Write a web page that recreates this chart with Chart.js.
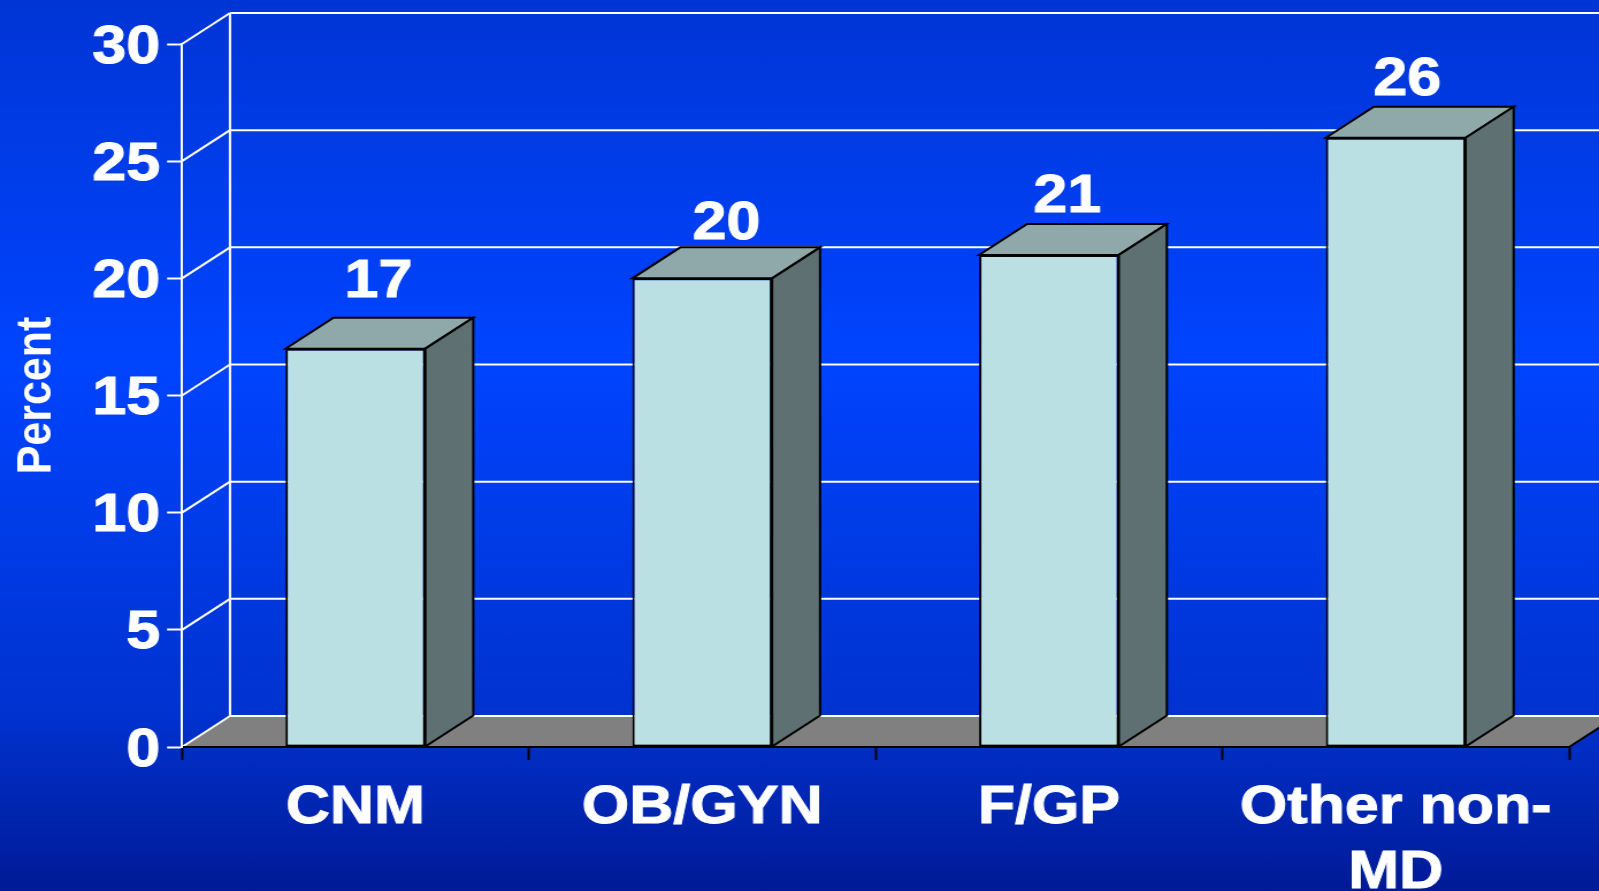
<!DOCTYPE html>
<html>
<head>
<meta charset="utf-8">
<title>Percent by provider type</title>
<script src="https://cdn.jsdelivr.net/npm/chart.js@4"></script>
<style>
  html, body { margin: 0; padding: 0; width: 1599px; height: 891px; overflow: hidden; }
  body { background: linear-gradient(to bottom, #0035d5 0%, #0044ff 40%, #0032cf 80%, #001a96 100%); }
  /* the original picture is stretched sideways, so the text is too */
  #chart { display: block; transform-origin: 0 0; transform: scaleX(1.1504); }
</style>
</head>
<body>
<canvas id="chart" width="1390" height="891"></canvas>
<script>
const categories = ['CNM', 'OB/GYN', 'F/GP', ['Other non-', 'MD']];
const percents = [17, 20, 21, 26];
const valueLabels = ['17', '20', '21', '26'];
const yTicks = [0, 5, 10, 15, 20, 25, 30];

// 3d look
const stretch = 1.1504;
const depthX = 48 / stretch;
const depthY = 31;
const labelNudgeX = [20, 21, 16, 10];
const labelNudgeY = [66, 54, 58, 57];
const font = '"Liberation Sans", Arial, sans-serif';

function poly(ctx, pts, fill, stroke, width) {
  ctx.beginPath();
  pts.forEach((p, i) => i ? ctx.lineTo(p[0], p[1]) : ctx.moveTo(p[0], p[1]));
  ctx.closePath();
  if (fill) { ctx.fillStyle = fill; ctx.fill(); }
  if (stroke) { ctx.strokeStyle = stroke; ctx.lineWidth = width; ctx.lineJoin = 'miter'; ctx.stroke(); }
}

function line(ctx, x1, y1, x2, y2, color, width) {
  ctx.beginPath();
  ctx.moveTo(x1, y1);
  ctx.lineTo(x2, y2);
  ctx.strokeStyle = color;
  ctx.lineWidth = width;
  ctx.stroke();
}

const wallsAndFloor = {
  id: 'wallsAndFloor',
  beforeDraw(chart) {
    const ctx = chart.ctx;
    const { left, right } = chart.chartArea;
    const y = chart.scales.y;
    const y0 = y.getPixelForValue(0);
    ctx.save();
    // floor
    poly(ctx, [[left, y0], [right, y0], [right + depthX, y0 - depthY], [left + depthX, y0 - depthY]], '#808080');
    line(ctx, right, y0, right + depthX, y0 - depthY, '#000000', 2);
    // back wall grid and the slanted part of each line
    yTicks.forEach(v => {
      const py = y.getPixelForValue(v);
      line(ctx, left, py, left + depthX, py - depthY, '#ffffff', 2);
      line(ctx, left + depthX, py - depthY, right + depthX, py - depthY, '#ffffff', 2);
    });
    line(ctx, left + depthX, y.getPixelForValue(30) - depthY, left + depthX, y0 - depthY, '#ffffff', 2);
    ctx.restore();
  }
};

const barSides = {
  id: 'barSides',
  afterDatasetsDraw(chart) {
    const ctx = chart.ctx;
    ctx.save();
    chart.getDatasetMeta(0).data.forEach((bar, i) => {
      const l = bar.x - bar.width / 2;
      const r = bar.x + bar.width / 2;
      const t = bar.y;
      const b = bar.base;
      poly(ctx, [[l, t], [r, t], [r + depthX, t - depthY], [l + depthX, t - depthY]], '#8fa8aa', '#000000', 2);
      poly(ctx, [[r, t], [r + depthX, t - depthY], [r + depthX, b - depthY], [r, b]], '#5e7072', '#000000', 2);
      ctx.fillStyle = '#ffffff';
      ctx.strokeStyle = '#ffffff';
      ctx.lineWidth = 1;
      ctx.font = 'bold 53px ' + font;
      ctx.textAlign = 'center';
      ctx.textBaseline = 'middle';
      ctx.strokeText(valueLabels[i], bar.x + labelNudgeX[i], t - labelNudgeY[i]);
      ctx.fillText(valueLabels[i], bar.x + labelNudgeX[i], t - labelNudgeY[i]);
    });
    ctx.restore();
  }
};

new Chart(document.getElementById('chart'), {
  type: 'bar',
  data: {
    labels: categories,
    datasets: [{
      data: percents,
      backgroundColor: '#bbe0e3',
      borderColor: '#000000',
      borderWidth: 2,
      borderSkipped: false,
      barPercentage: 1,
      categoryPercentage: 0.403
    }]
  },
  options: {
    responsive: false,
    animation: false,
    layout: { padding: { top: 44, right: 26 } },
    plugins: { legend: { display: false }, tooltip: { enabled: false } },
    scales: {
      x: {
        afterFit(scale) { scale.height = 144; },
        border: { color: '#000000', width: 2 },
        grid: { drawOnChartArea: false, tickColor: '#000000', tickWidth: 2, tickLength: 13 },
        ticks: {
          color: '#ffffff',
          textStrokeColor: '#ffffff',
          textStrokeWidth: 1,
          autoSkip: false,
          maxRotation: 0,
          padding: 16,
          font: { family: font, size: 53, weight: 'bold', lineHeight: 1.23 }
        }
      },
      y: {
        min: 0,
        max: 30,
        afterFit(scale) { scale.width = 182 / stretch; },
        afterBuildTicks(scale) { scale.ticks = yTicks.map(value => ({ value })); },
        border: { color: '#ffffff', width: 2 },
        grid: { drawOnChartArea: false, tickColor: '#ffffff', tickWidth: 2, tickLength: 13 },
        ticks: {
          color: '#ffffff',
          textStrokeColor: '#ffffff',
          textStrokeWidth: 1,
          padding: 6,
          labelOffset: 4,
          font: { family: font, size: 53, weight: 'bold' }
        },
        title: {
          display: true,
          text: 'Percent',
          color: '#ffffff',
          padding: { top: 6, bottom: 0 },
          font: { family: font, size: 43, weight: 'bold' }
        }
      }
    }
  },
  plugins: [wallsAndFloor, barSides]
});
</script>
</body>
</html>
